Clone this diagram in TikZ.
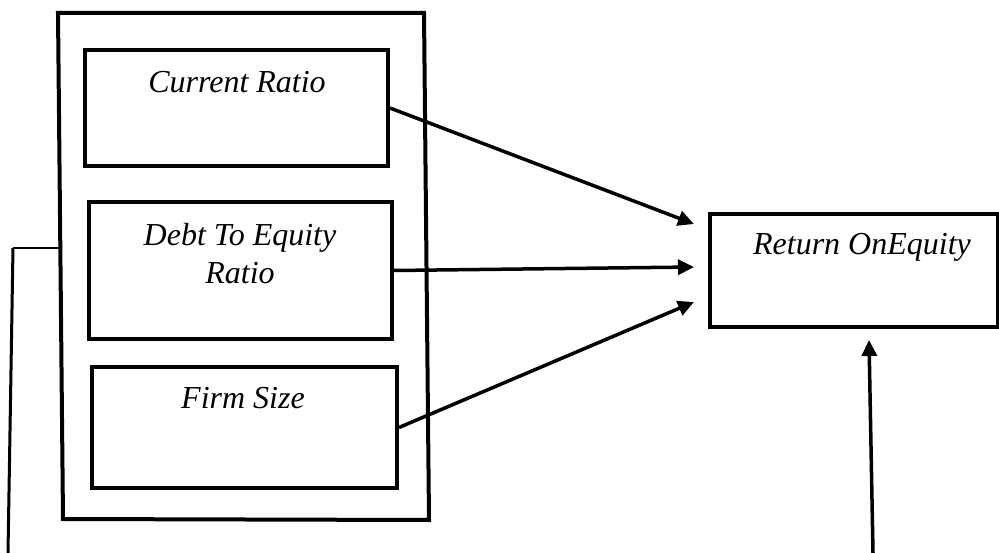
\documentclass[tikz,border=0pt]{standalone}
\usepackage{fontspec}
\setmainfont{Liberation Serif}
\usetikzlibrary{arrows.meta}
\begin{document}
\begin{tikzpicture}[x=1pt,y=-1pt,
  box/.style={draw,line width=4pt,inner sep=0pt},
  lbl/.style={font=\fontsize{32}{38}\selectfont\itshape,inner sep=0pt,align=center},
  arr/.style={line width=3.5pt,-{Triangle[length=16pt,width=15pt]}}]
\useasboundingbox (0,0) rectangle (999,553);
% outer frame
\coordinate (o1) at (58,13);
\coordinate (o2) at (424,13);
\coordinate (o3) at (429,520);
\coordinate (o4) at (63,519);
\draw[line width=4pt,line join=miter] (o1) -- (o2) -- (o3) -- (o4) -- cycle;
% inner boxes
\node[box,minimum width=303pt,minimum height=116pt] (cr) at (236.5,108) {};
\node[box,minimum width=303pt,minimum height=137pt] (de) at (240.5,270.5) {};
\node[box,minimum width=305pt,minimum height=121pt] (fs) at (244.5,427.5) {};
\node[box,minimum width=288pt,minimum height=113pt] (roe) at (854,270.5) {};
% labels
\node[lbl] (crl) at (237,82) {Current Ratio};
\node[lbl] (del) at (240,254) {Debt To Equity\\Ratio};
\node[lbl] (fsl) at (243,398) {Firm Size};
\node[lbl] (roel) at (862,247) {Return OnEquity};
% arrow targets
\coordinate (t1) at (694,224);
\coordinate (t2) at (694,267);
\coordinate (t3) at (694,302);
\coordinate (t4) at (869,340);
\coordinate (b4) at (873,553);
\draw[arr] (cr.east) -- (t1);
\draw[arr] (de.east) -- (t2);
\draw[arr] (fs.east) -- (t3);
\draw[arr] (b4) -- (t4);
% left bracket line
\coordinate (l0) at (59,248);
\coordinate (l1) at (13,248);
\coordinate (l2) at (8,553);
\draw[line width=1.5pt] (l0) -- (l1);
\draw[line width=3pt] (l1) -- (l2);
\end{tikzpicture}
\end{document}
